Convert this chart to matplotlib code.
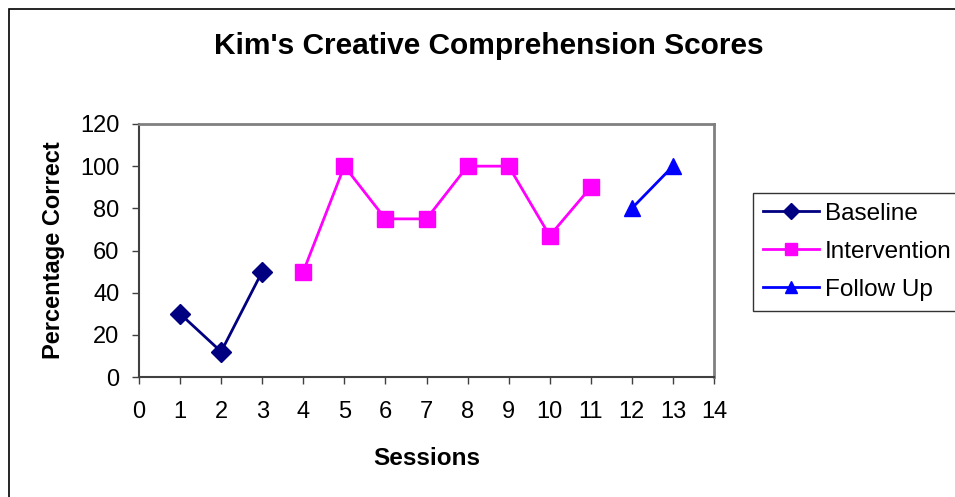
import matplotlib
matplotlib.use("Agg")
from matplotlib import pyplot as plt
from matplotlib.patches import Rectangle

plt.rcParams['font.family'] = ['Liberation Sans', 'DejaVu Sans']

# session scores by phase
baseline_x = [1, 2, 3]
baseline_y = [30, 12, 50]
interv_x = [4, 5, 6, 7, 8, 9, 10, 11]
interv_y = [50, 100, 75, 75, 100, 100, 67, 90]
follow_x = [12, 13]
follow_y = [80, 100]
x_ticks = list(range(0, 15))
y_ticks = list(range(0, 121, 20))

W, H = 955, 497
fig = plt.figure(figsize=(W / 100, H / 100), dpi=100)

# outer chart border (runs off the right and bottom edges)
fig.patches.append(Rectangle((9 / W, -0.1), 1.2, 1.1 - 9 / H, transform=fig.transFigure,
                             fill=False, edgecolor='black', linewidth=1.2))

ax = fig.add_axes([139 / W, 1 - 377 / H, 575 / W, 253 / H])
ax.plot(baseline_x, baseline_y, color='#000080', marker='D', markersize=10, linewidth=2, label='Baseline')
ax.plot(interv_x, interv_y, color='#FF00FF', marker='s', markersize=11, linewidth=2, label='Intervention')
ax.plot(follow_x, follow_y, color='#0000FF', marker='^', markersize=11, linewidth=2, label='Follow Up')

ax.set_xlim(0, 14)
ax.set_ylim(0, 120)
ax.set_xticks(x_ticks)
ax.set_yticks(y_ticks)
ax.tick_params(direction='out', length=5, width=1, labelsize=17, colors='#404040')
ax.tick_params(axis='x', pad=12.5)
ax.tick_params(axis='y', pad=9)
for s in ['top', 'right']:
    ax.spines[s].set_color('#808080')
    ax.spines[s].set_linewidth(2)
for s in ['left', 'bottom']:
    ax.spines[s].set_color('#404040')
    ax.spines[s].set_linewidth(1.5)
for lab in ax.get_xticklabels() + ax.get_yticklabels():
    lab.set_color('black')

ax.set_xlabel('Sessions', fontsize=17.5, fontweight='bold', labelpad=17)
ax.set_ylabel('Percentage Correct', fontsize=17, fontweight='bold', labelpad=11)
fig.text(489 / W, 1 - 46 / H, "Kim's Creative Comprehension Scores", ha='center', va='center',
         fontsize=21.5, fontweight='bold')

leg = ax.legend(loc='upper left', bbox_to_anchor=(753 / W, 1 - 193 / H), bbox_transform=fig.transFigure,
                frameon=True, fancybox=False, fontsize=17.5, borderpad=0.4, labelspacing=0.66,
                handlelength=2.3, handletextpad=0.25, borderaxespad=0, markerscale=0.85)
leg.get_frame().set_edgecolor('black')
leg.get_frame().set_linewidth(1)

fig.savefig('out.png', dpi=100)
